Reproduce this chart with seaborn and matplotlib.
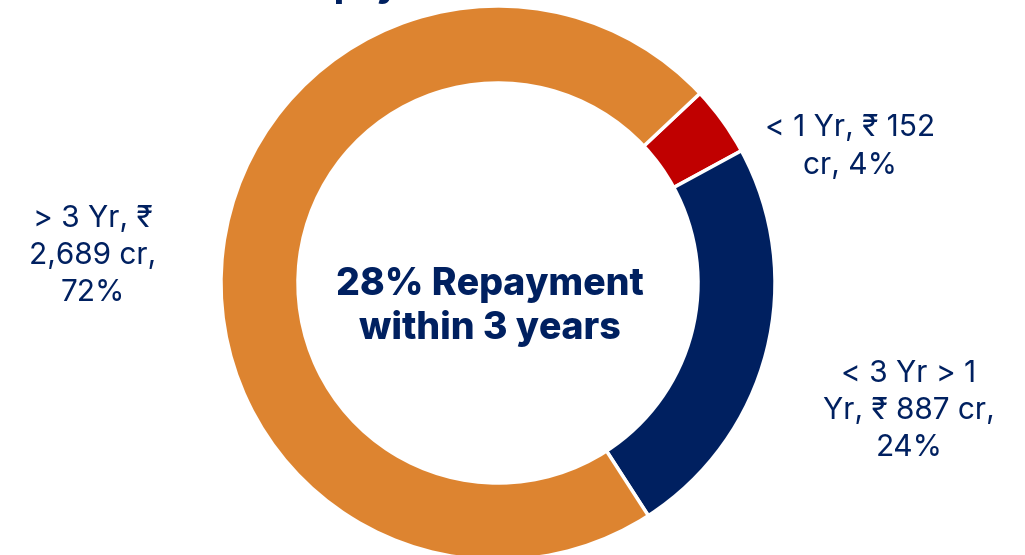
import matplotlib
matplotlib.use("Agg")
import matplotlib.pyplot as plt
import seaborn as sns

# Repayment buckets (₹ crore)
categories = ["< 1 Yr", "< 3 Yr > 1 Yr", "> 3 Yr"]
amounts_cr = [152, 887, 2689]
shares_pct = [4, 24, 72]
label_texts = [
    "< 1 Yr, ₹ 152\ncr, 4%",
    "< 3 Yr > 1\nYr, ₹ 887 cr,\n24%",
    "> 3 Yr, ₹\n2,689 cr,\n72%",
]
center_text = "28% Repayment\nwithin 3 years"
title_text = "Repayment Schedule"

sns.set_theme(style="white")
plt.rcParams["font.family"] = ["Inter", "Noto Sans", "DejaVu Sans"]

NAVY = "#002060"
colors = ["#C00000", NAVY, "#DD8430"]

W, H = 1025, 555
fig = plt.figure(figsize=(W / 100, H / 100), dpi=100)
ax = fig.add_axes([0, 0, 1, 1])

cx, cy = 498, H - 283
radius = 277
ax.pie(
    amounts_cr,
    colors=colors,
    startangle=43.2,
    counterclock=False,
    center=(cx, cy),
    radius=radius,
    wedgeprops=dict(width=77, edgecolor="white", linewidth=2.5),
    frame=True,
)
ax.set_xlim(0, W)
ax.set_ylim(0, H)
ax.set_aspect("equal")
ax.axis("off")

# Outside data labels
label_pos = [(850, H - 147), (909, H - 411), (93, H - 256)]
for txt, (x, y) in zip(label_texts, label_pos):
    ax.text(x, y, txt, ha="center", va="center", fontsize=21.5,
            color=NAVY, linespacing=1.42)

# Centre annotation
ax.text(cx - 8, H - 307, center_text, ha="center", va="center", fontsize=27,
        fontweight="heavy", color=NAVY, linespacing=1.22)

# Heading sitting just above the visible area
fig.text(290 / W, 1 + 3 / H, title_text, ha="left", va="baseline",
         fontsize=25, fontweight="heavy", color=NAVY)

fig.savefig("out.png", dpi=100)
